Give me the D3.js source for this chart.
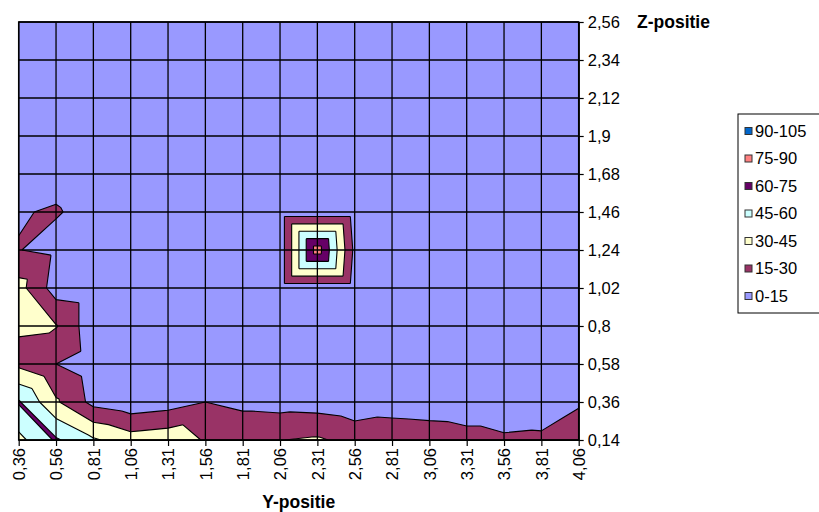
<!DOCTYPE html>
<html>
<head>
<meta charset="utf-8">
<script src="https://cdn.jsdelivr.net/npm/d3@7"></script>
<style>
body { margin: 0; background: #fff; }
svg { display: block; font-family: "Liberation Sans", Arial, sans-serif; }
</style>
</head>
<body>
<svg id="chart"></svg>
<script>
var WIDTH = 819;
var HEIGHT = 512;

//Y-positie categories (horizontal axis)
var yLabels = ["0,36", "0,56", "0,81", "1,06", "1,31", "1,56", "1,81", "2,06",
  "2,31", "2,56", "2,81", "3,06", "3,31", "3,56", "3,81", "4,06"];
//Z-positie series (vertical axis), bottom to top
var zLabels = ["0,14", "0,36", "0,58", "0,8", "1,02", "1,24", "1,46", "1,68",
  "1,9", "2,12", "2,34", "2,56"];

//values, one row per Z-positie
var z014 = [40.5, 62, 47, 37, 40, 28.6, 29.5, 29.7, 32, 25, 24, 23, 20, 17, 18, 25];
var z036 = [61.5, 32, 10.5, 5, 8, 15, 10.4, 9, 8, 5, 8.5, 7.3, 6.5, 6.5, 5.5, 13];
var z058 = [26.5, 15, 7, 5, 5, 6, 6, 6, 6, 5, 6, 5, 5, 4, 4, 6];
var z080 = [31.4, 30.8, 5, 4, 5, 5, 6, 5, 6, 6, 5, 5, 4, 4, 5, 5];
var z102 = [35.5, 8, 5, 5, 5, 6, 6, 6, 6, 6, 5, 5, 5, 4, 4, 4];
var z124 = [15.3, 11.8, 7, 6, 6, 6, 6, 6, 83, 11.3, 6, 5, 5, 4, 4, 4];
var z146 = [14.5, 15.7, 12, 7, 6, 5, 5, 6, 6, 6, 5, 5, 4, 4, 4, 4];
var z168 = [11, 12.3, 10, 7, 6, 5, 5, 5, 5, 5, 5, 4, 4, 4, 4, 4];
var z190 = [9, 10, 8, 6, 5, 5, 5, 5, 5, 5, 4, 4, 4, 4, 4, 4];
var z212 = [8, 8, 7, 6, 5, 5, 5, 5, 4, 4, 4, 4, 4, 3, 3, 3];
var z234 = [7, 7, 6, 5, 5, 4, 4, 4, 4, 4, 4, 3, 3, 3, 3, 3];
var z256 = [6, 6, 5, 5, 4, 4, 4, 4, 4, 3, 3, 3, 3, 3, 3, 3];
var values = [z014, z036, z058, z080, z102, z124, z146, z168, z190, z212, z234, z256];

//bands
var bandLabels = ["0-15", "15-30", "30-45", "45-60", "60-75", "75-90", "90-105"];
var bandColors = ["#9999ff", "#993366", "#ffffcc", "#ccffff", "#660066", "#ff8080", "#0066cc"];
var thresholds = [0, 15, 30, 45, 60, 75, 90, 105];

var svg = d3.select("#chart").attr("width", WIDTH).attr("height", HEIGHT);

var plotLeft = 18.7, plotRight = 578.7, plotTop = 22, plotBottom = 440;

//index scales for drawing the surface, point scales for the axes
var xi = d3.scaleLinear().domain([0, yLabels.length - 1]).range([plotLeft, plotRight]);
var yi = d3.scaleLinear().domain([0, zLabels.length - 1]).range([plotBottom, plotTop]);
var xAxisScale = d3.scalePoint().domain(yLabels).range([plotLeft, plotRight]);
var zAxisScale = d3.scalePoint().domain(zLabels).range([plotBottom, plotTop]);

//split every cell into two triangles along the higher diagonal
var triangles = [];
for (var i = 0; i < values.length - 1; i++) {
  for (var j = 0; j < yLabels.length - 1; j++) {
    var bl = [j, i, values[i][j]], br = [j + 1, i, values[i][j + 1]];
    var tl = [j, i + 1, values[i + 1][j]], tr = [j + 1, i + 1, values[i + 1][j + 1]];
    if (bl[2] + tr[2] >= tl[2] + br[2]) {
      triangles.push([bl, br, tr], [bl, tr, tl]);
    } else {
      triangles.push([bl, br, tl], [br, tr, tl]);
    }
  }
}

function clipAbove(poly, t) {
  var out = [];
  for (var k = 0; k < poly.length; k++) {
    var a = poly[k], b = poly[(k + 1) % poly.length];
    var ina = a[2] >= t, inb = b[2] >= t;
    if (ina) out.push(a);
    if (ina !== inb) {
      var f = (t - a[2]) / (b[2] - a[2]);
      out.push([a[0] + f * (b[0] - a[0]), a[1] + f * (b[1] - a[1]), t]);
    }
  }
  return out;
}

var plot = svg.append("g").attr("id", "plot");

//lowest band as the background
plot.append("rect")
  .attr("x", plotLeft).attr("y", plotTop)
  .attr("width", plotRight - plotLeft).attr("height", plotBottom - plotTop)
  .style("fill", bandColors[0]);

//each higher band painted over the one below
for (var b = 1; b < bandColors.length; b++) {
  var p = d3.path();
  var t = thresholds[b];
  triangles.forEach(function (tri) {
    var poly = clipAbove(tri, t);
    if (poly.length < 3) return;
    p.moveTo(xi(poly[0][0]), yi(poly[0][1]));
    for (var k = 1; k < poly.length; k++) p.lineTo(xi(poly[k][0]), yi(poly[k][1]));
    p.closePath();
  });
  plot.append("path").attr("d", p.toString()).style("fill", bandColors[b]);
}

//contour lines
var lines = d3.path();
thresholds.slice(1).forEach(function (t) {
  triangles.forEach(function (tri) {
    var pts = [];
    for (var k = 0; k < 3; k++) {
      var a = tri[k], c = tri[(k + 1) % 3];
      if ((a[2] >= t) !== (c[2] >= t)) {
        var f = (t - a[2]) / (c[2] - a[2]);
        pts.push([a[0] + f * (c[0] - a[0]), a[1] + f * (c[1] - a[1])]);
      }
    }
    if (pts.length === 2) {
      lines.moveTo(xi(pts[0][0]), yi(pts[0][1]));
      lines.lineTo(xi(pts[1][0]), yi(pts[1][1]));
    }
  });
});
plot.append("path").attr("d", lines.toString())
  .style("fill", "none").style("stroke", "#000").style("stroke-width", 1.1);

//gridlines
plot.append("g").selectAll("line").data(yLabels).enter().append("line")
  .attr("x1", function (d) { return xAxisScale(d); })
  .attr("x2", function (d) { return xAxisScale(d); })
  .attr("y1", plotTop).attr("y2", plotBottom)
  .style("stroke", "#000").style("stroke-width", 1.3);
plot.append("g").selectAll("line").data(zLabels).enter().append("line")
  .attr("x1", plotLeft).attr("x2", plotRight)
  .attr("y1", function (d) { return zAxisScale(d); })
  .attr("y2", function (d) { return zAxisScale(d); })
  .style("stroke", "#000").style("stroke-width", 1.3);
plot.append("rect")
  .attr("x", plotLeft).attr("y", plotTop)
  .attr("width", plotRight - plotLeft).attr("height", plotBottom - plotTop)
  .style("fill", "none").style("stroke", "#000").style("stroke-width", 1.5);

//axes
var xAxis = svg.append("g")
  .attr("transform", "translate(0," + plotBottom + ")")
  .call(d3.axisBottom(xAxisScale).tickSize(6).tickSizeOuter(0));
xAxis.selectAll("text")
  .attr("y", 0).attr("x", -8).attr("dy", "0.35em")
  .attr("transform", "rotate(-90)")
  .style("text-anchor", "end")
  .style("font-size", "16.5px").style("font-family", "Liberation Sans, Arial, sans-serif")
  .style("fill", "#000");

var zAxis = svg.append("g")
  .attr("transform", "translate(" + plotRight + ",0)")
  .call(d3.axisRight(zAxisScale).tickSize(5).tickPadding(4).tickSizeOuter(0));
zAxis.selectAll("text")
  .style("font-size", "16.5px").style("font-family", "Liberation Sans, Arial, sans-serif")
  .style("fill", "#000");
svg.selectAll(".domain, .tick line").style("stroke", "#000").style("stroke-width", 1.2);

//axis titles
svg.append("text").attr("x", (plotLeft + plotRight) / 2).attr("y", 508)
  .attr("text-anchor", "middle").style("font-weight", "bold").style("font-size", "17.5px")
  .text("Y-positie");
svg.append("text").attr("x", 637).attr("y", 28)
  .style("font-weight", "bold").style("font-size", "17.5px")
  .text("Z-positie");

//legend
var legend = svg.append("g").attr("id", "legend");
legend.append("rect")
  .attr("x", 738).attr("y", 114).attr("width", 100).attr("height", 199)
  .style("fill", "#fff").style("stroke", "#000").style("stroke-width", 1);
var items = legend.selectAll("g.item")
  .data(bandLabels.map(function (d, k) { return { label: d, color: bandColors[k] }; }).reverse())
  .enter().append("g").attr("class", "item")
  .attr("transform", function (d, k) { return "translate(745," + (131 + k * 27.5) + ")"; });
items.append("rect")
  .attr("x", 0).attr("y", -3.5).attr("width", 7).attr("height", 7)
  .style("fill", function (d) { return d.color; })
  .style("stroke", "#333").style("stroke-width", 1);
items.append("text")
  .attr("x", 10).attr("dy", "0.36em")
  .style("font-size", "16.5px")
  .text(function (d) { return d.label; });
</script>
</body>
</html>
